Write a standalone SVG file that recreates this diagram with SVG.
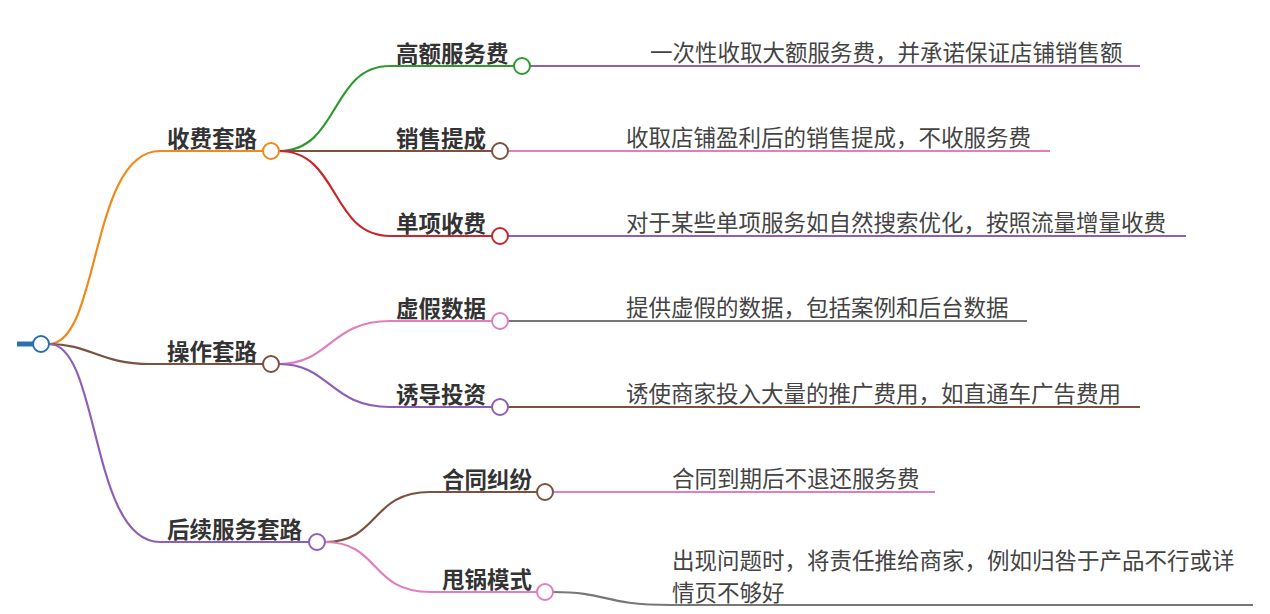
<svg xmlns="http://www.w3.org/2000/svg" width="1270" height="614" viewBox="0 0 1270 614">
<style>
.c{fill:none;stroke-width:2.2}
.n{fill:#fff;stroke-width:2}
.t1{font:bold 22.5px "Noto Sans CJK SC",sans-serif;fill:#333}
.t2{font:22.5px "Noto Sans CJK SC",sans-serif;fill:#444}
</style>
<rect width="1270" height="614" fill="#fff"/>
<g id="connectors">
<path fill="none" stroke="#2a6fb0" stroke-width="5" d="M17,344H34"/>
<path class="c" stroke="#f0891a" d="M49,344C100,344 90,151 160,151H263"/>
<path class="c" stroke="#7b5240" d="M49,344C90,344 100,364 150,364H263"/>
<path class="c" stroke="#8e60b5" d="M49,344C100,344 90,542 160,542H309"/>
<path class="c" stroke="#2e9a2e" d="M279,151C340,151 330,66 390,66H514"/>
<path class="c" stroke="#7b5240" d="M279,151H492"/>
<path class="c" stroke="#c8262e" d="M279,151C340,151 330,236 390,236H492"/>
<path class="c" stroke="#e07fc0" d="M279,364C330,364 330,321 390,321H492"/>
<path class="c" stroke="#8e60b5" d="M279,364C330,364 330,407 390,407H492"/>
<path class="c" stroke="#7b5240" d="M325,542C380,542 370,492 430,492H537"/>
<path class="c" stroke="#e07fc0" d="M325,542C380,542 370,592 430,592H537"/>
<path class="c" stroke="#8e60b5" d="M530,66H1140"/>
<path class="c" stroke="#e07fc0" d="M508,151H1050"/>
<path class="c" stroke="#8e60b5" d="M508,236H1186"/>
<path class="c" stroke="#777" d="M508,321H1027"/>
<path class="c" stroke="#7b5240" d="M508,407H1140"/>
<path class="c" stroke="#e07fc0" d="M553,492H935"/>
<path class="c" stroke="#777" d="M553,592C610,592 600,605 672,605H1253"/>
</g>
<g id="root"><circle class="n" cx="41" cy="344" r="8" stroke="#2a6fb0"/></g>
<g id="n1"><text class="t1" x="167" y="147">收费套路</text><circle class="n" cx="271" cy="151" r="8" stroke="#f0891a"/></g>
<g id="n2"><text class="t1" x="167" y="360">操作套路</text><circle class="n" cx="271" cy="364" r="8" stroke="#7b5240"/></g>
<g id="n3"><text class="t1" x="167" y="538">后续服务套路</text><circle class="n" cx="317" cy="542" r="8" stroke="#8e60b5"/></g>
<g id="n11"><text class="t1" x="396" y="62">高额服务费</text><circle class="n" cx="522" cy="66" r="8" stroke="#2e9a2e"/></g>
<g id="n12"><text class="t1" x="396" y="147">销售提成</text><circle class="n" cx="500" cy="151" r="8" stroke="#7b5240"/></g>
<g id="n13"><text class="t1" x="396" y="232">单项收费</text><circle class="n" cx="500" cy="236" r="8" stroke="#c8262e"/></g>
<g id="n21"><text class="t1" x="396" y="317">虚假数据</text><circle class="n" cx="500" cy="321" r="8" stroke="#e07fc0"/></g>
<g id="n22"><text class="t1" x="396" y="403">诱导投资</text><circle class="n" cx="500" cy="407" r="8" stroke="#8e60b5"/></g>
<g id="n31"><text class="t1" x="442" y="488">合同纠纷</text><circle class="n" cx="545" cy="492" r="8" stroke="#7b5240"/></g>
<g id="n32"><text class="t1" x="442" y="588">甩锅模式</text><circle class="n" cx="545" cy="592" r="8" stroke="#e07fc0"/></g>
<g id="l11"><text class="t2" x="650" y="61">一次性收取大额服务费，并承诺保证店铺销售额</text></g>
<g id="l12"><text class="t2" x="626" y="146">收取店铺盈利后的销售提成，不收服务费</text></g>
<g id="l13"><text class="t2" x="626" y="231">对于某些单项服务如自然搜索优化，按照流量增量收费</text></g>
<g id="l21"><text class="t2" x="626" y="316">提供虚假的数据，包括案例和后台数据</text></g>
<g id="l22"><text class="t2" x="626" y="402">诱使商家投入大量的推广费用，如直通车广告费用</text></g>
<g id="l31"><text class="t2" x="672" y="487">合同到期后不退还服务费</text></g>
<g id="l32"><text class="t2" x="672" y="569">出现问题时，将责任推给商家，例如归咎于产品不行或详</text><text class="t2" x="672" y="601">情页不够好</text></g>
</svg>
